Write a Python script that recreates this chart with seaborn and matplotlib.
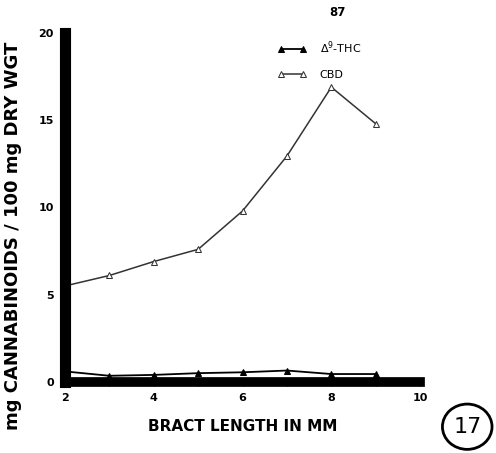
import matplotlib
matplotlib.use("Agg")
import matplotlib.pyplot as plt
import seaborn as sns
import pandas as pd
from matplotlib.patches import Circle

bract_length = [2, 3, 4, 5, 6, 7, 8, 9]
thc = [0.6, 0.35, 0.4, 0.5, 0.55, 0.65, 0.45, 0.45]
cbd = [5.5, 6.1, 6.9, 7.6, 9.8, 12.95, 16.9, 14.8]
x_ticks = [2, 4, 6, 8, 10]
x_minor = [3, 5, 7, 9]
y_ticks = [0, 5, 10, 15, 20]

df = pd.DataFrame({
    "x": bract_length * 2,
    "y": thc + cbd,
    "series": ["THC"] * len(thc) + ["CBD"] * len(cbd),
})

sns.set_style("white")
plt.rcParams['font.family'] = ['DejaVu Sans']
plt.rcParams['text.color'] = 'black'
plt.rcParams['axes.labelcolor'] = 'black'
plt.rcParams['xtick.color'] = 'black'
plt.rcParams['ytick.color'] = 'black'

fig = plt.figure(figsize=(4.96, 4.53), dpi=100)
ax = fig.add_axes([0.131, 0.157, 0.716, 0.770])

sns.lineplot(data=df[df.series == "THC"], x="x", y="y", ax=ax, color="black",
             marker="^", markersize=5, markerfacecolor="black", markeredgecolor="black",
             linewidth=1.3, label="$\\Delta^{9}$-THC")
sns.lineplot(data=df[df.series == "CBD"], x="x", y="y", ax=ax, color="#333333",
             marker="^", markersize=5, markerfacecolor="white", markeredgecolor="#333333",
             linewidth=1.1, label="CBD")

ax.set_xlim(2, 10)
ax.set_ylim(0, 20)
ax.set_xticks(x_ticks)
ax.set_xticks(x_minor, minor=True)
ax.set_yticks(y_ticks)
ax.set_xticklabels([str(v) for v in x_ticks], fontsize=8, fontweight="bold")
ax.set_yticklabels([str(v) for v in y_ticks], fontsize=8, fontweight="bold")
ax.tick_params(axis="both", which="both", direction="out", length=3, width=1, pad=5,
               bottom=True, left=True)
ax.tick_params(axis="x", which="minor", length=3)

for s in ["top", "right"]:
    ax.spines[s].set_visible(False)
ax.spines["left"].set_linewidth(8)
ax.spines["bottom"].set_linewidth(7)
ax.spines["left"].set_color("black")
ax.spines["bottom"].set_color("black")
ax.grid(False)

ax.set_xlabel("BRACT LENGTH IN MM", fontsize=11, fontweight="bold")
ax.xaxis.set_label_coords(0.50, -0.105)
ax.set_ylabel("mg CANNABINOIDS / 100 mg DRY WGT", fontsize=13, fontweight="bold")
ax.yaxis.set_label_coords(-0.12, 0.42)

leg = ax.legend(loc="upper left", bbox_to_anchor=(0.57, 1.01), frameon=False,
                numpoints=2, handlelength=2.6, handletextpad=1.2, fontsize=8,
                labelspacing=1.2)

fig.text(0.68, 0.972, "87", fontsize=8.5, fontweight="bold", ha="center", va="center")
circ = Circle((0.942, 0.058), 0.05, transform=fig.transFigure, fill=False,
              edgecolor="black", linewidth=2)
fig.patches.append(circ)
fig.text(0.942, 0.058, "17", fontsize=16, ha="center", va="center")

fig.savefig("out.png", dpi=100)
